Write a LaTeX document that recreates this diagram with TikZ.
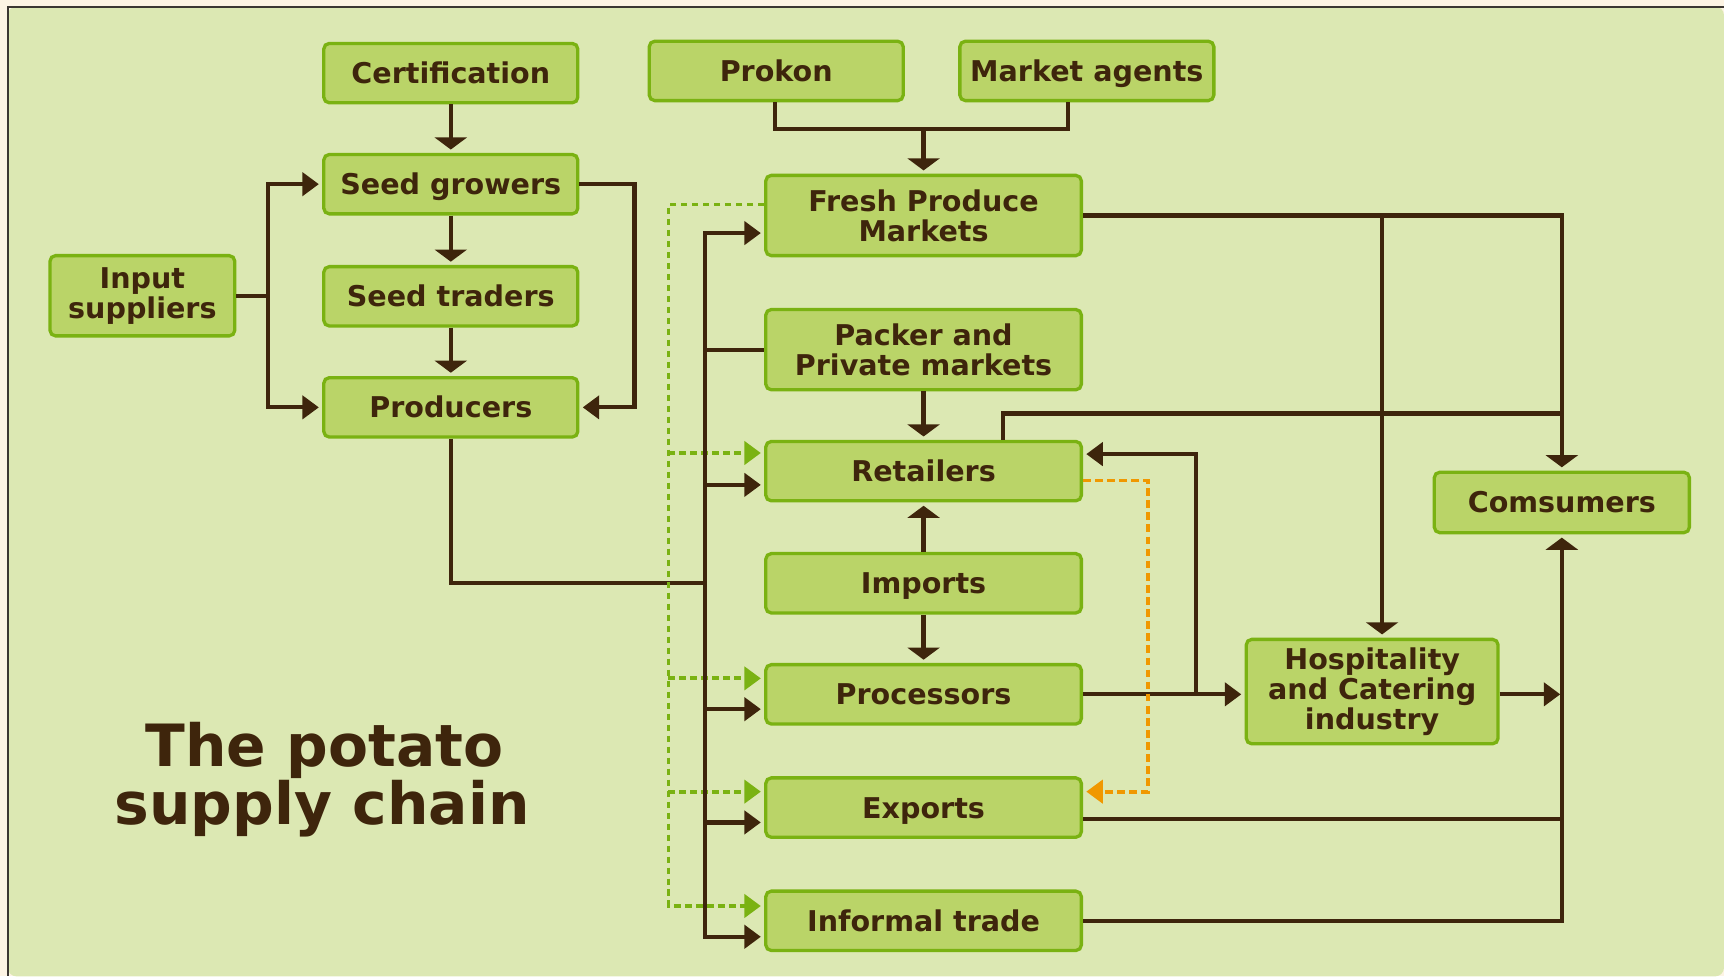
\documentclass[tikz,border=0pt]{standalone}
\usepackage{fontspec}
\setmainfont{DejaVu Sans}
\usetikzlibrary{arrows.meta,calc}
\definecolor{bgout}{RGB}{253,244,228}
\definecolor{bggreen}{RGB}{220,232,179}
\definecolor{boxfill}{RGB}{186,212,104}
\definecolor{boxline}{RGB}{122,178,18}
\definecolor{ink}{RGB}{62,37,12}
\definecolor{orng}{RGB}{240,152,0}
\definecolor{frameline}{RGB}{60,55,50}
\begin{document}
\begin{tikzpicture}[x=1pt,y=-1pt,
  box/.style={draw=boxline, line width=3pt, fill=boxfill, rounded corners=5pt,
    text=ink, font=\bfseries\fontsize{26}{27}\selectfont, align=center, inner sep=0pt},
  one/.style={text height=19pt, text depth=0pt},
  sbox/.style={box, one, minimum width=231pt, minimum height=54pt},
  wbox/.style={box, one, minimum width=287pt, minimum height=54pt},
  tbox/.style={box, minimum width=287pt, minimum height=73pt},
  lnk/.style={draw=ink, line width=3.8pt, line join=miter},
  arr/.style={lnk, -{Triangle[length=15pt,width=21pt]}, shorten >=3pt},
  varr/.style={lnk, -{Triangle[length=11pt,width=29pt]}, shorten >=3pt},
  gdash/.style={draw=boxline, line width=3.6pt, dash pattern=on 6pt off 4pt},
  garr/.style={gdash, -{Triangle[length=15pt,width=21pt]}, shorten >=3pt},
  oarr/.style={draw=orng, line width=3.6pt, dash pattern=on 7pt off 4pt, -{Triangle[length=15pt,width=21pt]}, shorten >=3pt},
  title/.style={text=ink, font=\bfseries\fontsize{53}{53}\selectfont, anchor=base, inner sep=0pt}
]
\useasboundingbox (0,0) rectangle (1568,888);
% background
\fill[bgout] (0,0) rectangle (1568,888);
\fill[bggreen, rounded corners=8pt] (7,6) rectangle (1568,888);
\draw[frameline, line width=1.8pt] (1568,6) -- (7,6) -- (7,888);

% nodes
\node[sbox] (cert) at (410,66.5) {Certification};
\node[sbox] (prokon) at (706,64.5) {Prokon};
\node[sbox] (agents) at (988.5,64.5) {Market agents};
\node[sbox] (sg) at (410,167.5) {Seed growers};
\node[sbox] (st) at (410,269.5) {Seed traders};
\node[sbox] (prod) at (410,370.5) {Producers};
\node[box, minimum width=168pt, minimum height=73pt] (input) at (129.5,269) {Input\\suppliers};
\node[tbox] (fpm) at (840,196) {Fresh Produce\\Markets};
\node[tbox] (packer) at (840,318) {Packer and\\Private markets};
\node[wbox] (ret) at (840,428.5) {Retailers};
\node[wbox] (imp) at (840,530.5) {Imports};
\node[wbox] (proc) at (840,631.5) {Processors};
\node[wbox] (exp) at (840,734.5) {Exports};
\node[wbox] (inf) at (840,837.5) {Informal trade};
\node[box, minimum width=229pt, minimum height=95pt] (hosp) at (1248,629) {Hospitality\\and Catering\\industry};
\node[box, one, minimum width=232pt, minimum height=55pt] (cons) at (1420.5,457) {Comsumers};

\node[title] (t1) at (295,697) {The potato};
\node[title] (t2) at (293,750) {supply chain};

% left cluster
\draw[varr] (cert) -- (sg);
\draw[varr] (sg) -- (st);
\draw[varr] (st) -- (prod);
\coordinate (ij) at (244,269);
\draw[lnk] (input.east) -- (ij);
\draw[arr] (ij) |- (sg.west);
\draw[arr] (ij) |- (prod.west);
\draw[arr] (sg.east) -- ++(50,0) |- (prod.east);

% producers to bus
\coordinate (pb) at (641,530);
\draw[lnk] (prod.south) |- (pb);

% green dashed bus
\coordinate (g0) at (608,186);
\coordinate (g2) at (608,412);
\coordinate (g3) at (608,617);
\coordinate (g4) at (608,720);
\coordinate (g5) at (608,824);
\draw[garr] (fpm.west |- g0) -- (g0) -- (g5) -- (g5 -| inf.west);
\draw[garr] (g2) -- (g2 -| ret.west);
\draw[garr] (g3) -- (g3 -| proc.west);
\draw[garr] (g4) -- (g4 -| exp.west);

% solid bus
\coordinate (b1) at (641,212);
\coordinate (b2) at (641,441);
\coordinate (b3) at (641,645);
\coordinate (b4) at (641,748);
\coordinate (b5) at (641,852);
\coordinate (bp) at (641,318);
\draw[arr] (b5) -- (b1) -- (b1 -| fpm.west);
\draw[arr] (b1) -- (b5) -- (b5 -| inf.west);
\draw[arr] (b2) -- (b2 -| ret.west);
\draw[arr] (b3) -- (b3 -| proc.west);
\draw[arr] (b4) -- (b4 -| exp.west);
\draw[lnk] (bp) -- (bp -| packer.west);

% top
\coordinate (pk) at (705,117);
\coordinate (ma) at (971,117);
\coordinate (pm) at (840,117);
\draw[lnk] (pk |- prokon.south) -- (pk) -- (ma) -- (ma |- agents.south);
\draw[varr] (pm) -- (fpm.north);

% middle column
\draw[varr] (packer) -- (ret);
\draw[varr] (imp) -- (ret);
\draw[varr] (imp) -- (proc);

% right side
\draw[varr] (fpm.east) -| (cons.north);
\coordinate (hj) at (1257,196);
\draw[varr] (hj) -- (hj |- hosp.north);
\coordinate (rt) at (912,376);
\draw[lnk] (rt |- ret.north) -- (rt) -- (rt -| cons.north);
\draw[arr] (proc.east) -- (proc.east -| hosp.west);
\coordinate (pj) at (1088,631.5);
\coordinate (rr) at (1088,413);
\draw[arr] (pj) -- (rr) -- (rr -| ret.east);
\coordinate (o1) at (1044,437);
\coordinate (o2) at (1044,720);
\draw[oarr] (o1 -| ret.east) -- (o1) -- (o2) -- (o2 -| exp.east);
\coordinate (hc) at (1421,631.5);
\draw[arr, shorten >=1.9pt] (hosp.east |- hc) -- (hc);
\draw[varr] (inf.east) -| (cons.south);
\coordinate (ee) at ($(exp.east)+(0,10.5)$);
\draw[lnk] (ee) -- (ee -| cons.south);
\end{tikzpicture}
\end{document}
